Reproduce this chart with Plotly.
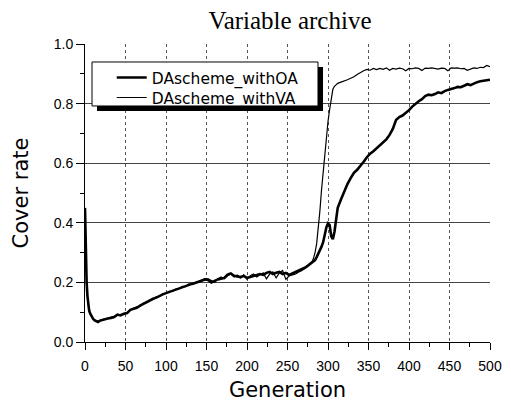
import plotly.graph_objects as go

# Generation index (shared by both series)
gens = [0, 1, 2, 3, 4, 5, 6, 8, 10, 12, 14, 16, 18, 20,
        24, 28, 32, 36, 40, 44, 48, 52, 56, 60, 64, 68, 72, 76, 80, 84, 88, 92, 96, 100,
        104, 108, 112, 116, 120, 124, 128, 132, 136, 140, 144, 148, 152, 156, 160, 164,
        168, 172, 176, 180, 184, 188, 192, 196, 200, 204, 208, 212, 216, 220, 224, 228,
        232, 236, 240, 244, 248, 252, 256, 260, 264, 268, 272, 276,
        280, 282, 284, 286, 288, 290, 292, 294, 296, 298, 300, 302, 304, 306, 308, 310,
        312, 316, 320, 324, 328, 332, 336, 340, 344, 348, 352, 356, 360, 364, 368, 372,
        376, 380, 384, 388, 392, 396, 400, 404, 408, 412, 416, 420, 424, 428, 432, 436,
        440, 444, 448, 452, 456, 460, 464, 468, 472, 476, 480, 484, 488, 492, 496, 500]

cover_oa = [0.45, 0.30, 0.20, 0.155, 0.125, 0.108, 0.098, 0.085, 0.078, 0.072, 0.069, 0.067, 0.071, 0.073,
            0.075, 0.079, 0.081, 0.084, 0.092, 0.089, 0.095, 0.097, 0.108, 0.112, 0.115, 0.122, 0.128, 0.134,
            0.138, 0.145, 0.149, 0.155, 0.160, 0.164, 0.168, 0.172, 0.175, 0.181, 0.185, 0.188, 0.192, 0.195,
            0.198, 0.202, 0.205, 0.210, 0.208, 0.200, 0.205, 0.210, 0.212, 0.215, 0.226, 0.230, 0.222, 0.220,
            0.218, 0.222, 0.215, 0.218, 0.222, 0.225, 0.228, 0.225, 0.232, 0.235, 0.228, 0.232, 0.235, 0.228,
            0.232, 0.225, 0.230, 0.235, 0.240, 0.245, 0.250, 0.258,
            0.265, 0.270, 0.275, 0.285, 0.295, 0.308, 0.320, 0.335, 0.360, 0.385, 0.398, 0.392, 0.355, 0.345,
            0.370, 0.420,
            0.450, 0.478, 0.505, 0.530, 0.550, 0.568, 0.578, 0.590, 0.605, 0.620, 0.632, 0.640, 0.650, 0.660,
            0.670, 0.680, 0.695, 0.715, 0.745, 0.755, 0.760, 0.768, 0.778, 0.790, 0.800, 0.808, 0.815, 0.825,
            0.830, 0.828, 0.832, 0.838, 0.835, 0.842, 0.846, 0.848, 0.852, 0.856, 0.855, 0.860, 0.865, 0.862,
            0.868, 0.872, 0.875, 0.877, 0.880, 0.880]

cover_va = [0.44, 0.29, 0.195, 0.15, 0.12, 0.105, 0.095, 0.083, 0.076, 0.074, 0.071, 0.070, 0.072, 0.075,
            0.077, 0.078, 0.083, 0.086, 0.090, 0.093, 0.092, 0.100, 0.105, 0.114, 0.118, 0.120, 0.130, 0.132,
            0.140, 0.143, 0.152, 0.153, 0.162, 0.163, 0.170, 0.170, 0.178, 0.179, 0.187, 0.186, 0.195, 0.193,
            0.200, 0.200, 0.207, 0.212, 0.212, 0.205, 0.200, 0.212, 0.218, 0.212, 0.222, 0.228, 0.218, 0.225,
            0.215, 0.225, 0.210, 0.222, 0.228, 0.218, 0.225, 0.232, 0.212, 0.228, 0.235, 0.215, 0.232, 0.240,
            0.210, 0.222, 0.225, 0.228, 0.235, 0.240, 0.248, 0.258,
            0.268, 0.280, 0.300, 0.330, 0.380, 0.440, 0.510, 0.570, 0.630, 0.690, 0.740, 0.780, 0.820, 0.848,
            0.858, 0.864,
            0.868, 0.872, 0.875, 0.880, 0.885, 0.890, 0.898, 0.905, 0.910, 0.915, 0.912, 0.918, 0.914, 0.918,
            0.915, 0.920, 0.912, 0.918, 0.916, 0.919, 0.917, 0.910, 0.918, 0.917, 0.920, 0.918, 0.911, 0.919,
            0.918, 0.920, 0.917, 0.916, 0.919, 0.918, 0.910, 0.920, 0.919, 0.920, 0.917, 0.918, 0.912, 0.916,
            0.920, 0.918, 0.922, 0.921, 0.928, 0.924]

series_names = ["DAscheme_withOA", "DAscheme_withVA"]
x_ticks = [0, 50, 100, 150, 200, 250, 300, 350, 400, 450, 500]
y_ticks = [0.0, 0.2, 0.4, 0.6, 0.8, 1.0]

fig = go.Figure()
fig.add_trace(go.Scatter(x=gens, y=cover_oa, mode="lines", name=series_names[0],
                         line=dict(color="black", width=2.6), legend="legend"))
fig.add_trace(go.Scatter(x=gens, y=cover_va, mode="lines", name=series_names[1],
                         line=dict(color="black", width=1.2), legend="legend2"))

# legend frame with drop shadow
fig.add_shape(type="rect", xref="paper", yref="paper",
              x0=0.0296, x1=0.5877, y0=0.7752, y1=0.9228,
              fillcolor="black", line=dict(width=0), layer="above")
fig.add_shape(type="rect", xref="paper", yref="paper",
              x0=0.0173, x1=0.5753, y0=0.792, y1=0.9396,
              fillcolor="white", line=dict(color="black", width=1), layer="above")

leg_font = dict(family="DejaVu Sans, sans-serif", size=15.5, color="black")
axis_font = dict(family="Liberation Sans, Arial, sans-serif", size=14, color="black")
title_font = dict(family="DejaVu Sans, sans-serif", size=21, color="black")
fig.update_layout(
    width=511, height=402,
    margin=dict(l=85, r=21, t=44, b=60),
    paper_bgcolor="white", plot_bgcolor="white",
    title=dict(text="Variable archive", x=0.506, xref="paper", y=0.95, yref="container",
               xanchor="center", yanchor="middle",
               font=dict(family="Liberation Serif, Times New Roman, serif", size=25, color="black")),
    legend=dict(x=0.066, y=0.886, xanchor="left", yanchor="middle",
                bgcolor="rgba(0,0,0,0)", borderwidth=0, font=leg_font, itemwidth=30),
    legend2=dict(x=0.066, y=0.819, xanchor="left", yanchor="middle",
                 bgcolor="rgba(0,0,0,0)", borderwidth=0, font=leg_font, itemwidth=30),
    showlegend=True,
)
fig.update_xaxes(range=[0, 500], tickvals=x_ticks, ticks="outside", ticklen=7, tickcolor="black",
                 showline=True, linecolor="black", linewidth=1, zeroline=False, automargin=False,
                 showgrid=True, gridcolor="#555555", griddash="dot", gridwidth=1,
                 minor=dict(dtick=25, tick0=0, ticks="outside", ticklen=4, tickcolor="black", showgrid=False),
                 tickfont=axis_font, ticklabelstandoff=4,
                 title=dict(text="Generation", standoff=11, font=title_font))
fig.update_yaxes(range=[0, 1.0], tickvals=y_ticks, tickformat=".1f", ticks="outside", ticklen=8,
                 tickcolor="black", showline=True, linecolor="black", linewidth=1, zeroline=False,
                 automargin=False,
                 showgrid=True, gridcolor="#444444", gridwidth=1,
                 minor=dict(dtick=0.1, tick0=0, ticks="outside", ticklen=4, tickcolor="black", showgrid=False),
                 tickfont=axis_font,
                 title=dict(text="Cover rate", standoff=19, font=title_font))

fig.write_html("out.html")
